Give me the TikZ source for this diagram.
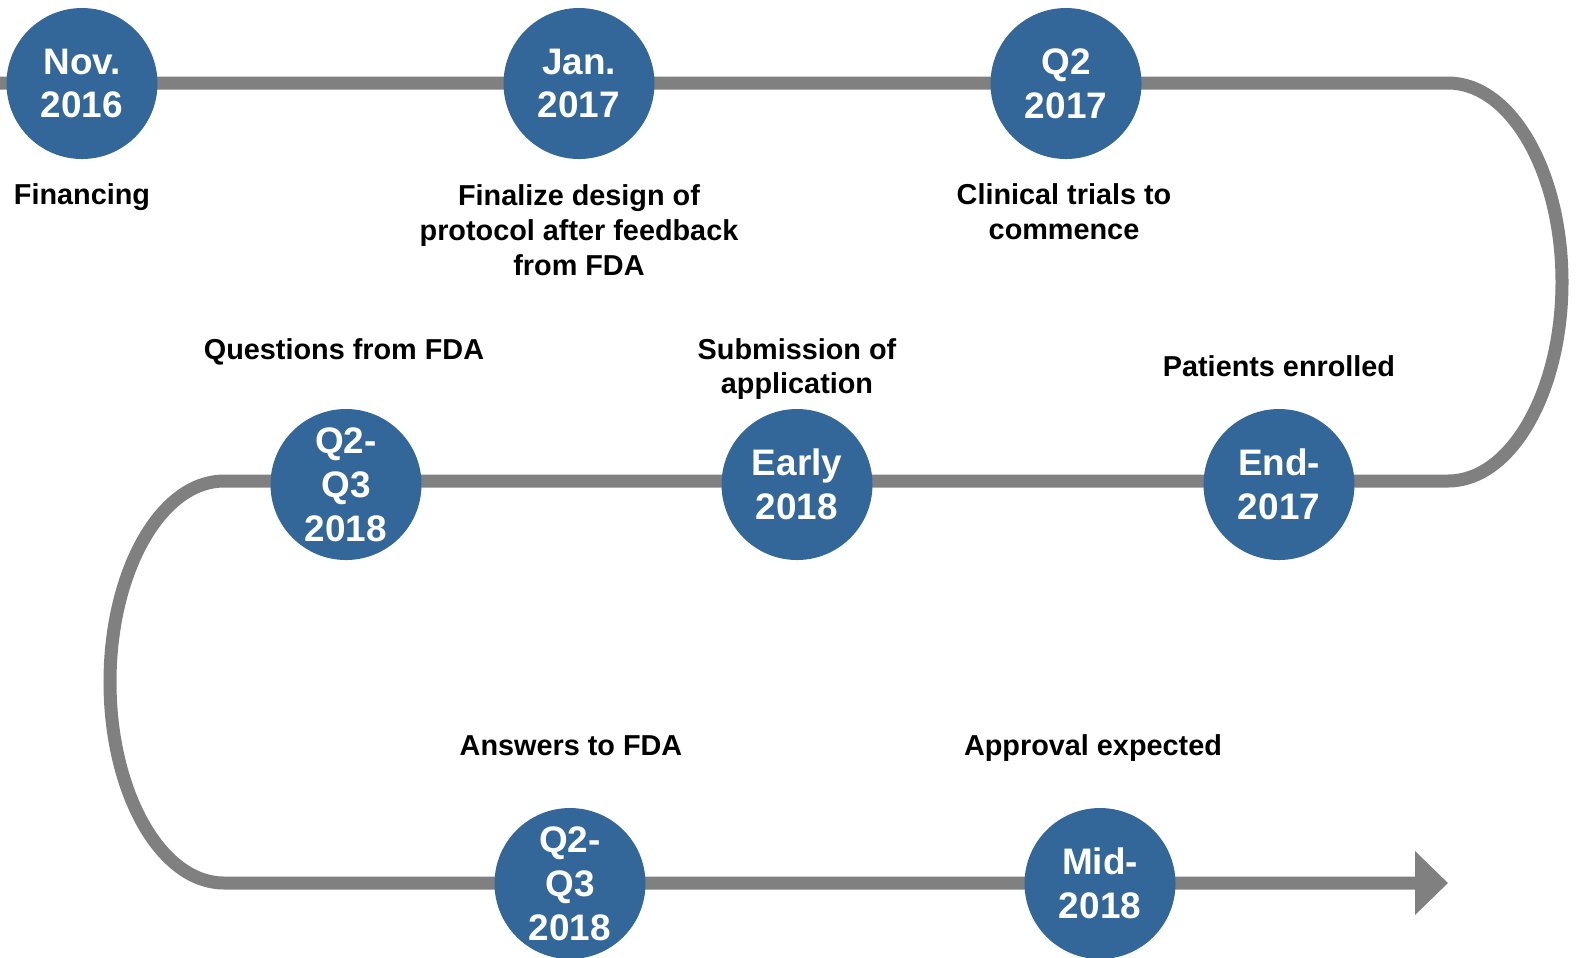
\documentclass[tikz,border=0pt]{standalone}
\usepackage{fontspec}
\setmainfont{Liberation Sans}
\usepackage{tikz}
\usetikzlibrary{arrows.meta,positioning}
\definecolor{mileblue}{RGB}{52,103,153}
\definecolor{linegray}{RGB}{128,128,128}

\begin{document}
\begin{tikzpicture}
	[inner sep=0pt,
	milestone/.style = {circle, fill=mileblue, minimum size=15.1mm, text=white, align=center,
	                    font=\fontsize{10.5}{12.5}\selectfont\bfseries},
	event/.style     = {align=center, font=\fontsize{8.2}{9.9}\selectfont\bfseries},
	track/.style     = {draw=linegray, line width=3.7pt},
	tip/.style       = {-{Triangle[length=3.3mm, width=6.2mm]}}]
	
	\useasboundingbox (0,0) rectangle (15.76,-9.57);
	
	% the winding time line, behind the circles
	\coordinate (start)  at (0, -.83);
	\coordinate (turn1)  at (14.48, -.83);
	\coordinate (row2)   at (2.24, -4.81);
	\coordinate (finish) at (14.48, -8.83);
	
	\draw [track, tip] (start) -- (turn1)
		arc[start angle=90, end angle=-90, x radius=1.14, y radius=1.99] -- (row2)
		arc[start angle=90, end angle=270, x radius=1.14, y radius=2.01] -- (finish);
	
	\node at (.82, -.835)		[milestone]	(nov16)	{Nov.\\2016};
	\node at (5.79, -.835)		[milestone]	(jan17)	{Jan.\\2017};
	\node at (10.66, -.835)		[milestone]	(q217)	{Q2\\2017};
	
	\node at (3.46, -4.845)		[milestone]	(q2q3a)	{Q2-\\Q3\\2018};
	\node at (7.97, -4.845)		[milestone]	(early)	{Early\\2018};
	\node at (12.79, -4.845)	[milestone]	(end17)	{End-\\2017};
	
	\node at (5.70, -8.835)		[milestone]	(q2q3b)	{Q2-\\Q3\\2018};
	\node at (11.00, -8.835)	[milestone]	(mid18)	{Mid-\\2018};
	
	\node at (.82, -1.97)		[event]		(fin)	{Financing};
	\node at (5.79, -2.30)		[event]		(proto)	{Finalize design of\\protocol after feedback\\from FDA};
	\node at (10.64, -2.12)		[event]		(trial)	{Clinical trials to\\commence};
	
	\node at (3.44, -3.52)		[event]		(quest)	{Questions from FDA};
	\node at (7.97, -3.69)		[event]		(subm)	{Submission of\\application};
	\node at (12.79, -3.66)		[event]		(pat)	{Patients enrolled};
	
	\node at (5.71, -7.46)		[event]		(answ)	{Answers to FDA};
	\node at (10.93, -7.48)		[event]		(appr)	{Approval expected};
	\end{tikzpicture}
\end{document}
